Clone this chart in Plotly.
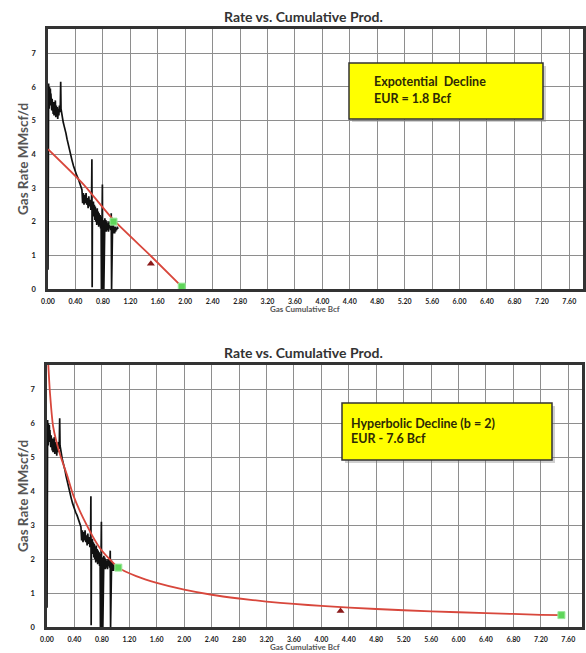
import plotly.graph_objects as go

W, H = 586, 653

# ---------------- data ----------------
# production history: cumulative gas (Bcf) vs gas rate (MMscf/d)
cum_bcf = [0.000, 0.003, 0.006, 0.009, 0.012, 0.015, 0.018, 0.021, 0.024, 0.027,
           0.030, 0.034, 0.038, 0.042, 0.046, 0.050, 0.055, 0.060, 0.065, 0.070,
           0.076, 0.082, 0.088, 0.094, 0.100, 0.107, 0.114, 0.121, 0.128, 0.135,
           0.142, 0.150, 0.158, 0.166, 0.174, 0.180, 0.185, 0.190, 0.196, 0.203,
           0.212, 0.222, 0.234, 0.248, 0.262, 0.278, 0.295, 0.312, 0.330, 0.350,
           0.372, 0.395, 0.418, 0.440, 0.460, 0.480, 0.495, 0.505, 0.515, 0.525,
           0.535, 0.545, 0.555, 0.565, 0.575, 0.585, 0.595, 0.605, 0.615, 0.625,
           0.635, 0.640, 0.644, 0.648, 0.655, 0.662, 0.669, 0.676, 0.683, 0.690,
           0.697, 0.704, 0.711, 0.718, 0.725, 0.732, 0.739, 0.746, 0.753, 0.760,
           0.767, 0.774, 0.779, 0.783, 0.788, 0.793, 0.798, 0.802, 0.806, 0.810,
           0.814, 0.818, 0.823, 0.829, 0.836, 0.843, 0.850, 0.858, 0.866, 0.874,
           0.882, 0.890, 0.898, 0.906, 0.914, 0.922, 0.927, 0.931, 0.936, 0.942,
           0.948, 0.954, 0.960, 0.966, 0.972, 0.978, 0.985, 0.992, 1.000, 1.010,
           1.020]
rate_mmscfd = [0.57, 6.05, 5.40, 6.10, 5.55, 5.95, 5.35, 6.00, 5.50, 5.85,
               5.45, 5.95, 5.55, 5.80, 5.40, 5.75, 5.30, 5.65, 5.25, 5.60,
               5.20, 5.55, 5.15, 5.50, 5.25, 5.60, 5.10, 5.45, 5.15, 5.40,
               5.05, 5.35, 5.15, 5.45, 5.25, 5.50, 6.15, 5.35, 5.25, 5.15,
               5.05, 4.95, 4.85, 4.75, 4.62, 4.45, 4.28, 4.12, 3.98, 3.82,
               3.65, 3.50, 3.38, 3.28, 3.15, 3.00, 2.95, 2.55, 2.85, 2.50,
               2.80, 2.55, 2.85, 2.50, 2.70, 2.40, 2.75, 2.45, 2.65, 2.35,
               2.60, 3.85, 0.05, 2.55, 2.25, 2.60, 2.15, 2.50, 2.05, 2.45,
               2.00, 2.35, 1.90, 2.40, 1.95, 2.30, 1.85, 2.25, 1.90, 2.20,
               1.80, 2.15, 0.00, 2.10, 1.80, 3.10, 0.00, 2.05, 0.00, 1.85,
               0.00, 2.10, 1.75, 2.10, 1.80, 2.05, 1.70, 2.00, 1.75, 1.95,
               1.70, 2.00, 1.80, 1.95, 1.75, 2.25, 0.00, 1.90, 1.70, 1.95,
               1.65, 1.90, 1.70, 1.85, 1.65, 1.85, 1.70, 1.80, 1.75, 1.85,
               1.78]

# exponential decline fit (top chart)
exp_cum = [0.0, 0.52, 0.955, 1.50, 1.95]
exp_rate = [4.15, 3.10, 2.05, 0.98, 0.07]
exp_green_cum = [0.955, 1.95]
exp_green_rate = [2.00, 0.07]
exp_tri_cum = [1.50]
exp_tri_rate = [0.75]

# hyperbolic decline fit, b = 2 (bottom chart)
hyp_cum = [0.0, 0.02, 0.044, 0.09, 0.19, 0.29, 0.38, 0.53, 0.77, 1.04, 1.30, 1.60,
           2.00, 2.40, 2.80, 3.20, 3.60, 4.00, 4.80, 5.60, 6.40, 7.20, 7.50]
hyp_rate = [8.60, 7.70, 6.88, 5.90, 5.08, 4.49, 3.90, 3.20, 2.33, 1.75, 1.50, 1.30,
            1.10, 0.95, 0.84, 0.75, 0.68, 0.62, 0.53, 0.46, 0.41, 0.36, 0.35]
hyp_green_cum = [1.04, 7.50]
hyp_green_rate = [1.75, 0.35]
hyp_tri_cum = [4.28]
hyp_tri_rate = [0.47]

x_tick_vals = [0.0, 0.4, 0.8, 1.2, 1.6, 2.0, 2.4, 2.8, 3.2, 3.6,
               4.0, 4.4, 4.8, 5.2, 5.6, 6.0, 6.4, 6.8, 7.2, 7.6]
x_tick_labels = ["0.00", "0.40", "0.80", "1.20", "1.60", "2.00", "2.40", "2.80", "3.20", "3.60",
                 "4.00", "4.40", "4.80", "5.20", "5.60", "6.00", "6.40", "6.80", "7.20", "7.60"]
y_tick_vals = [0, 1, 2, 3, 4, 5, 6, 7]
y_tick_labels = ["0", "1", "2", "3", "4", "5", "6", "7"]

chart_title = "Rate vs. Cumulative Prod."
x_title = "Gas Cumulative Bcf"
y_title = "Gas Rate MMscf/d"
box_top_lines = ["Expotential  Decline", "EUR = 1.8 Bcf"]
box_bot_lines = ["Hyperbolic Decline (b = 2)", "EUR - 7.6 Bcf"]

# ---------------- figure ----------------
FONT = "Lato"
RED = "#d8473c"
GREEN = "#5fd65a"
TRI = "#8b1a1a"


def px(x):
    return x / W


def py(y):
    return 1 - y / H


fig = go.Figure()

for xa, ya, fit_x, fit_y, gx, gy, tx, ty in [
    ("x", "y", exp_cum, exp_rate, exp_green_cum, exp_green_rate, exp_tri_cum, exp_tri_rate),
    ("x2", "y2", hyp_cum, hyp_rate, hyp_green_cum, hyp_green_rate, hyp_tri_cum, hyp_tri_rate),
]:
    fig.add_trace(go.Scatter(x=cum_bcf, y=rate_mmscfd, mode="lines", xaxis=xa, yaxis=ya,
                             line=dict(color="#111111", width=1.7), showlegend=False))
    fig.add_trace(go.Scatter(x=fit_x, y=fit_y, mode="lines", xaxis=xa, yaxis=ya,
                             line=dict(color=RED, width=1.8, shape="spline", smoothing=0.6),
                             showlegend=False))
    fig.add_trace(go.Scatter(x=gx, y=gy, mode="markers", xaxis=xa, yaxis=ya,
                             marker=dict(symbol="square", size=7, color=GREEN,
                                         line=dict(color="#9be89a", width=1)),
                             showlegend=False))
    fig.add_trace(go.Scatter(x=tx, y=ty, mode="markers", xaxis=xa, yaxis=ya,
                             marker=dict(symbol="triangle-up", size=7, color=TRI),
                             showlegend=False))

axis_common = dict(
    showgrid=True, gridcolor="#8e8e8e", gridwidth=1.3, zeroline=False,
    showline=True, mirror=True, linecolor="#333333", linewidth=2.5,
    ticks="", fixedrange=True, automargin=False,
)
x_common = dict(axis_common, range=[0, 7.8], tickmode="array", tickvals=x_tick_vals,
                ticktext=x_tick_labels, ticklabelstandoff=4,
                tickfont=dict(family=FONT, size=7, color="#1a1a1a", weight="bold"))
y_common = dict(axis_common, range=[0, 7.72], tickmode="array", tickvals=y_tick_vals,
                ticktext=y_tick_labels, ticklabelstandoff=8,
                tickfont=dict(family=FONT, size=7.5, color="#1a1a1a", weight="bold"))

fig.update_layout(
    width=W, height=H,
    margin=dict(l=0, r=0, t=0, b=0),
    paper_bgcolor="white", plot_bgcolor="white",
    showlegend=False,
    xaxis=dict(x_common, domain=[px(48), px(583)], anchor="y"),
    yaxis=dict(y_common, domain=[py(289), py(29)], anchor="x"),
    xaxis2=dict(x_common, domain=[px(47), px(582)], anchor="y2"),
    yaxis2=dict(y_common, domain=[py(627), py(365)], anchor="x2"),
)

annotations = []
shapes = []
for top_px, bot_px in [(29, 289), (365, 627)]:
    # chart title
    annotations.append(dict(text=chart_title, x=px(304), y=py(top_px - 13), xref="paper", yref="paper",
                            showarrow=False, xanchor="center", yanchor="middle",
                            font=dict(family=FONT, size=14, color="#333333", weight="bold")))
    # x title
    annotations.append(dict(text=x_title, x=px(305), y=py(bot_px + 20), xref="paper", yref="paper",
                            showarrow=False, xanchor="center", yanchor="middle",
                            font=dict(family=FONT, size=8, color="#555555", weight="bold")))
    # y title
    annotations.append(dict(text=y_title, x=px(23), y=py((top_px + bot_px) / 2), xref="paper",
                            yref="paper", showarrow=False, textangle=-90,
                            xanchor="center", yanchor="middle",
                            font=dict(family=FONT, size=13.5, color="#555555", weight="bold")))

# yellow info boxes (shadow + box)
for x0, y0, x1, y1 in [(349, 63, 543, 119), (342, 403, 552, 460)]:
    shapes.append(dict(type="rect", xref="paper", yref="paper",
                       x0=px(x0 + 3), x1=px(x1 + 3), y0=py(y1 + 3), y1=py(y0 + 3),
                       fillcolor="rgba(120,120,120,0.35)", line=dict(width=0)))
    shapes.append(dict(type="rect", xref="paper", yref="paper",
                       x0=px(x0), x1=px(x1), y0=py(y1), y1=py(y0),
                       fillcolor="#ffff00", line=dict(color="#333333", width=1.5)))

for txt, xx, yy in [(box_top_lines[0], 372, 82), (box_top_lines[1], 372, 99),
                    (box_bot_lines[0], 349, 423), (box_bot_lines[1], 349, 438)]:
    annotations.append(dict(text=txt, x=px(xx), y=py(yy), xref="paper", yref="paper",
                            showarrow=False, xanchor="left", yanchor="middle",
                            font=dict(family=FONT, size=12.5, color="#2e2a05", weight="bold")))

fig.update_layout(annotations=annotations, shapes=shapes)
fig.write_html("out.html", config={"displayModeBar": False})

# remove the default page margin so the figure sits at the window's top-left corner
with open("out.html", "r", encoding="utf-8") as f:
    html = f.read()
html = html.replace("<head>", "<head><style>html,body{margin:0;padding:0;overflow:hidden;}</style>", 1)
with open("out.html", "w", encoding="utf-8") as f:
    f.write(html)
